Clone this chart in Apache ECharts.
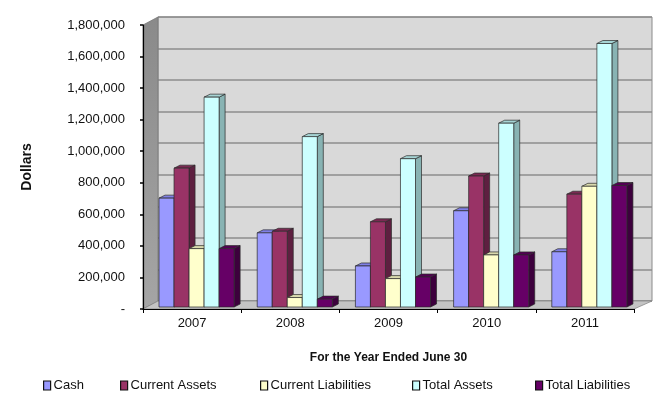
<!DOCTYPE html>
<html><head><meta charset="utf-8">
<script src="https://cdn.jsdelivr.net/npm/echarts@6/dist/echarts.min.js"></script>
<style>html,body{margin:0;padding:0;background:#fff}#c{width:653px;height:395px}</style>
</head><body><div id="c"></div>
<script>
const years = ['2007', '2008', '2009', '2010', '2011'];
const seriesNames = ['Cash', 'Current Assets', 'Current Liabilities', 'Total Assets', 'Total Liabilities'];
const cash = [690000, 470000, 260000, 610000, 350000];
const currentAssets = [880000, 480000, 540000, 830000, 715000];
const currentLiabilities = [370000, 60000, 180000, 330000, 765000];
const totalAssets = [1330000, 1080000, 940000, 1165000, 1670000];
const totalLiabilities = [370000, 50000, 190000, 330000, 770000];
const yMin = 0, yMax = 1800000, yStep = 200000;

const values = [cash, currentAssets, currentLiabilities, totalAssets, totalLiabilities];
const faces = [
  {front:'#9999ff', side:'#6a6ab8', top:'#8080e6'},
  {front:'#993366', side:'#5e1f40', top:'#7a2952'},
  {front:'#ffffcc', side:'#b8b893', top:'#d9d9ad'},
  {front:'#ccffff', side:'#88b3b3', top:'#a6d4d4'},
  {front:'#660066', side:'#3d003d', top:'#520052'}
];
const FONT = '"Liberation Sans", Arial, sans-serif';

function makeRender(si) {
  const f = faces[si];
  return function (params, api) {
    const cat = api.value(0), val = api.value(1);
    const c = api.coord([cat, val]);
    const c0 = api.coord([cat, 0]);
    const band = api.size([1, 0])[0];
    const w = band * 0.153;
    const x = c[0] - band / 2 + band * 0.163 + si * w;
    const yTop = c[1] - 2, yBot = c0[1] - 2;
    const dx = 6, dy = -3;
    const st = {stroke: '#2a2a2a', lineWidth: 0.7};
    return {type: 'group', children: [
      {type: 'polygon', shape: {points: [[x + w, yTop], [x + w + dx, yTop + dy], [x + w + dx, yBot + dy], [x + w, yBot]]},
        style: Object.assign({fill: f.side}, st)},
      {type: 'polygon', shape: {points: [[x, yTop], [x + dx, yTop + dy], [x + w + dx, yTop + dy], [x + w, yTop]]},
        style: Object.assign({fill: f.top}, st)},
      {type: 'rect', shape: {x: x, y: yTop, width: w, height: yBot - yTop},
        style: Object.assign({fill: f.front}, st)}
    ]};
  };
}

const legendLeft = [43, 120, 260, 412, 535];
const legends = seriesNames.map((n, i) => ({
  data: [n], left: legendLeft[i], top: 379, icon: 'rect', itemWidth: 7, itemHeight: 9,
  itemStyle: {borderColor: '#111', borderWidth: 1.2},
  textStyle: {fontFamily: FONT, fontSize: 13, color: '#111', padding: [0, 0, 0, -2]},
  padding: 0, selectedMode: false
}));

const chart = echarts.init(document.getElementById('c'), null, {renderer: 'canvas'});
chart.setOption({
  animation: false,
  backgroundColor: '#fff',
  legend: legends,
  grid: [
    {left: 143, top: 25, right: 19, bottom: 86, containLabel: false},
    {left: 158, top: 17, right: 1, bottom: 94, show: true, backgroundColor: '#d9d9d9', borderColor: '#8a8a8a', borderWidth: 1, z: 0}
  ],
  graphic: [
    {type: 'polygon', shape: {points: [[143, 25], [158, 17], [158, 301], [143, 309]]}, z: 1,
      style: {fill: new echarts.graphic.LinearGradient(0, 0, 0, 1, [{offset: 0, color: '#8a8a8a'}, {offset: 1, color: '#a5a5a5'}]), stroke: '#777', lineWidth: 0.8}},
    {type: 'polygon', shape: {points: [[143, 309], [158, 301], [652, 301], [634, 309]]}, z: 1,
      style: {fill: '#c4c4c4', stroke: '#888', lineWidth: 0.8}}
  ],
  xAxis: [
    {type: 'category', data: years, gridIndex: 0, boundaryGap: true,
      axisLine: {show: true, lineStyle: {color: '#000', width: 1.2}},
      axisTick: {show: true, interval: 0, length: 4, lineStyle: {color: '#000'}},
      axisLabel: {fontFamily: FONT, fontSize: 13, color: '#111', margin: 8, interval: 0},
      name: 'For the Year Ended June 30', nameLocation: 'middle', nameGap: 43,
      nameTextStyle: {fontFamily: FONT, fontSize: 12, fontWeight: 'bold', color: '#111'}, z: 5},
    {type: 'category', data: years, gridIndex: 1, show: false}
  ],
  yAxis: [
    {type: 'value', gridIndex: 0, min: yMin, max: yMax, interval: yStep,
      axisLine: {show: true, lineStyle: {color: '#000', width: 1.2}},
      axisTick: {show: true, length: 3, lineStyle: {color: '#000', width: 1.5}},
      splitLine: {show: false},
      axisLabel: {fontFamily: FONT, fontSize: 13, color: '#111', margin: 18,
        formatter: v => v === 0 ? '-' : v.toLocaleString('en-US')},
      name: 'Dollars', nameLocation: 'middle', nameRotate: 90, nameGap: 109,
      nameTextStyle: {fontFamily: FONT, fontSize: 14, fontWeight: 'bold', color: '#111'}, z: 5},
    {type: 'value', gridIndex: 1, min: yMin, max: yMax, interval: yStep,
      axisLine: {show: false}, axisTick: {show: false}, axisLabel: {show: false},
      splitLine: {show: true, lineStyle: {color: '#8c8c8c', width: 1.6}}}
  ],
  series: seriesNames.map((n, i) => ({
    name: n, type: 'custom', xAxisIndex: 0, yAxisIndex: 0, z: 3,
    itemStyle: {color: faces[i].front},
    renderItem: makeRender(i),
    encode: {x: 0, y: 1},
    data: values[i].map((v, k) => [k, v])
  }))
});
</script></body></html>
